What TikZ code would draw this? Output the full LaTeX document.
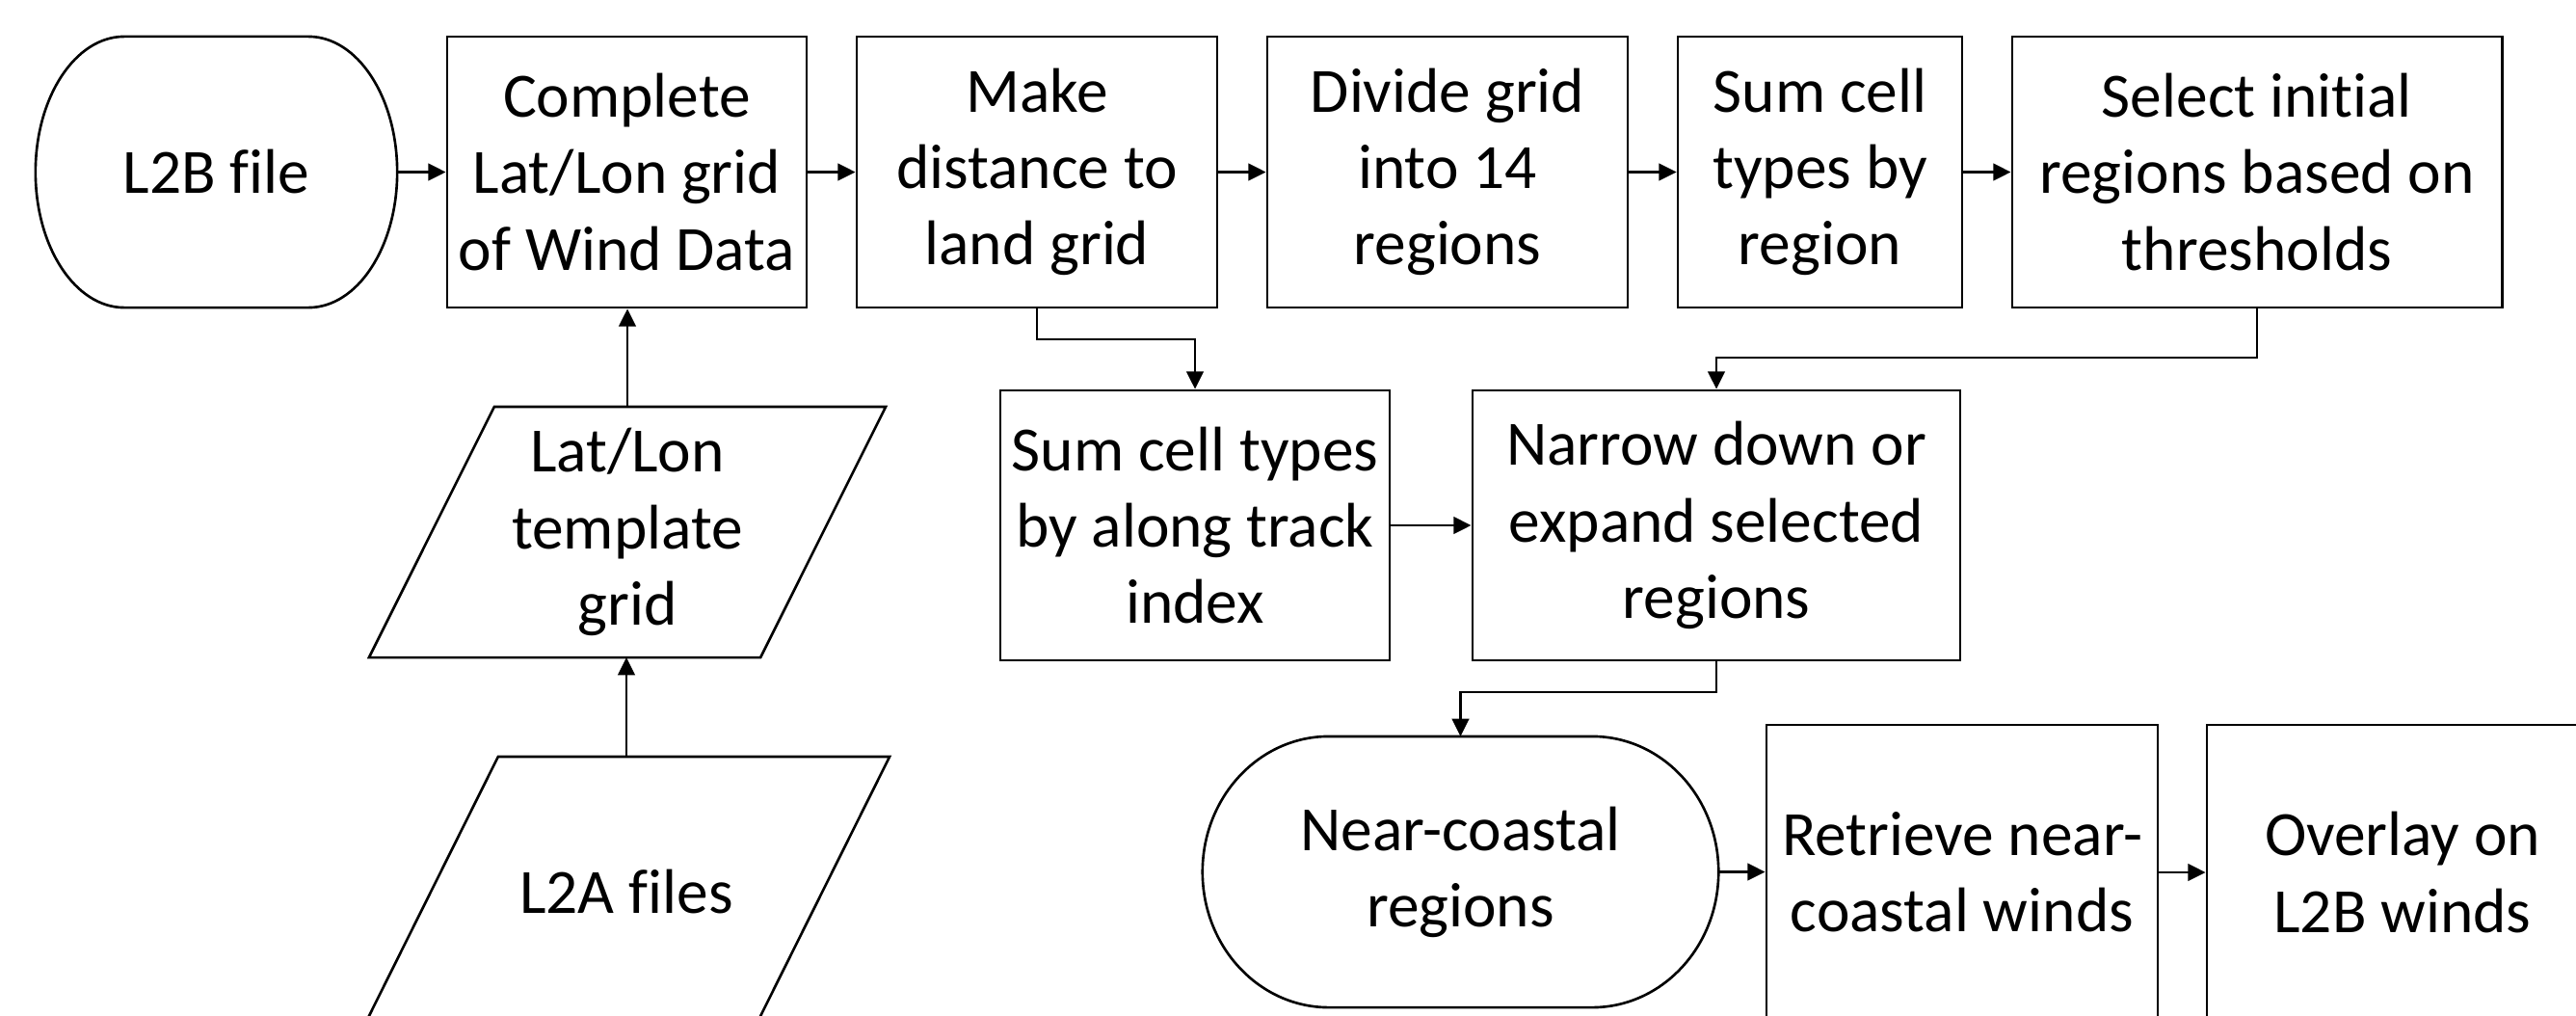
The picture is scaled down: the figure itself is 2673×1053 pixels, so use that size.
\documentclass[tikz,border=0pt]{standalone}
\usepackage{fontspec}
\setmainfont{Carlito}[Ligatures={NoCommon}]
\usetikzlibrary{arrows.meta,calc}
\newcommand\flowfont{\fontsize{18.6}{22.5}\selectfont}
\begin{document}
\begin{tikzpicture}[x=0.01cm,y=0.01cm,
  box/.style={draw, line width=0.75pt, align=center, inner sep=0pt, minimum height=2.81cm, font=\flowfont},
  ghost/.style={align=center, inner sep=0pt, outer sep=0pt, font=\flowfont},
  shp/.style={line width=0.75pt},
  arr/.style={line width=0.75pt, -{Triangle[length=5.2pt,width=5pt]}}]
\useasboundingbox (0,0) rectangle (2673,1053);
\fill[white] (0,0) rectangle (2673,1053);
\clip (0,0) rectangle (2673,1053);

% row 1
\node[ghost, minimum width=3.75cm, minimum height=2.81cm] (l2b) at (224.5,874.5) {L2B file};
\node[box, minimum width=3.73cm] (complete) at (650.5,874.5) {Complete\\Lat/Lon grid\\of Wind Data};
\node[box, minimum width=3.74cm] (make) at (1076,874.5) {Make\\distance to\\land grid};
\node[box, minimum width=3.74cm] (divide) at (1502,874.5) {Divide grid\\into 14\\regions};
\node[box, minimum width=2.95cm] (sumreg) at (1888.5,874.5) {Sum cell\\types by\\region};
\node[box, minimum width=5.08cm] (select) at (2342,874.5) {Select initial\\regions based on\\thresholds};

% row 2
\node[ghost, minimum width=4.06cm, minimum height=2.60cm] (lat) at (651,501) {Lat/Lon\\template\\grid};
\node[box, minimum width=4.04cm, minimum height=2.80cm] (sumalong) at (1240,508) {Sum cell types\\by along track\\index};
\node[box, minimum width=5.06cm, minimum height=2.80cm] (narrow) at (1781,508) {Narrow down or\\expand selected\\regions};

% row 3
\node[ghost, minimum width=4.06cm, minimum height=2.81cm] (l2a) at (650,127.5) {L2A files};
\node[ghost, minimum width=5.35cm, minimum height=2.81cm] (near) at (1515.5,148.5) {Near-coastal\\regions};
\node[box, minimum width=4.06cm, minimum height=3.06cm] (retrieve) at (2036,148) {Retrieve near-\\coastal winds};
\node[box, minimum width=4.06cm, minimum height=3.06cm] (overlay) at (2493,148) {Overlay on\\L2B winds};

% terminal outlines
\draw[shp] ($(l2b.north west)+(92,0)$) -- ($(l2b.north east)+(-92,0)$)
  arc[start angle=90,end angle=-90,x radius=0.92cm,y radius=1.405cm]
  -- ($(l2b.south west)+(92,0)$)
  arc[start angle=270,end angle=90,x radius=0.92cm,y radius=1.405cm] -- cycle;
\draw[shp] ($(near.north west)+(131,0)$) -- ($(near.north east)+(-131,0)$)
  arc[start angle=90,end angle=-90,x radius=1.31cm,y radius=1.405cm]
  -- ($(near.south west)+(131,0)$)
  arc[start angle=270,end angle=90,x radius=1.31cm,y radius=1.405cm] -- cycle;

% parallelograms
\draw[shp] ($(lat.north west)+(65,0)$) -- ($(lat.north east)+(65,0)$)
  -- ($(lat.south east)+(-65,0)$) -- ($(lat.south west)+(-65,0)$) -- cycle;
\draw[shp] ($(l2a.north west)+(70,0)$) -- ($(l2a.north east)+(70,0)$)
  -- ($(l2a.south east)+(-70,0)$) -- ($(l2a.south west)+(-70,0)$) -- cycle;

% bend points
\coordinate (m1) at (1076,701);
\coordinate (s1) at (2342,682);
\coordinate (n1) at (1781,335);

% connectors
\draw[arr] (l2b.east) -- (complete.west);
\draw[arr] (complete.east) -- (make.west);
\draw[arr] (make.east) -- (divide.west);
\draw[arr] (divide.east) -- (sumreg.west);
\draw[arr] (sumreg.east) -- (select.west);
\draw[arr] (lat.north) -- (lat.north |- complete.south);
\draw[arr] (l2a.north) -- (l2a.north |- lat.south);
\draw[arr] (make.south) -- (make.south |- m1) -| (sumalong.north);
\draw[arr] (select.south) -- (select.south |- s1) -| (narrow.north);
\draw[arr] (sumalong.east) -- (narrow.west);
\draw[arr] (narrow.south) -- (narrow.south |- n1) -| (near.north);
\draw[arr] (near.east) -- (near.east -| retrieve.west);
\draw[arr] (retrieve.east) -- (overlay.west);
\end{tikzpicture}
\end{document}
